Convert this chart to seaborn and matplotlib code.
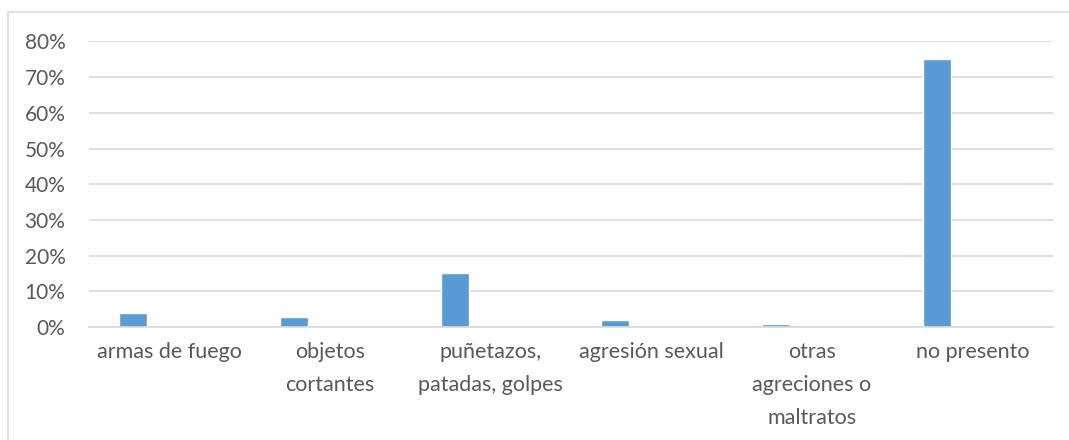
import matplotlib
matplotlib.use("Agg")
import matplotlib.pyplot as plt
import matplotlib.patches as mpatches
import seaborn as sns
import pandas as pd
from matplotlib.ticker import PercentFormatter

categories = ["armas de fuego", "objetos\ncortantes", "puñetazos,\npatadas, golpes",
              "agresión sexual", "otras\nagreciones o\nmaltratos", "no presento"]
values = [0.04, 0.028, 0.15, 0.019, 0.009, 0.752]

df = pd.DataFrame({"cat": categories, "val": values})

sns.set_theme(style="white")
plt.rcParams["font.family"] = ["Lato", "DejaVu Sans"]

text_col = "#595959"
grid_col = "#D9D9D9"

fig = plt.figure(figsize=(10.69, 4.40), dpi=100)
ax = fig.add_axes([0.0833, 0.2568, 0.9017, 0.6489])

sns.barplot(data=df, x="cat", y="val", color="#5B9BD5", width=0.174,
            saturation=1, ax=ax)
# Excel-style offset: bars sit left of the category centre
for p in ax.patches:
    p.set_x(p.get_x() - 0.224)

ax.set_ylim(0, 0.8)
ax.set_xlim(-0.5, len(categories) - 0.5)
ax.set_yticks([i / 10 for i in range(9)])
ax.yaxis.set_major_formatter(PercentFormatter(1.0, decimals=0))
ax.set_axisbelow(True)
ax.grid(axis="y", color=grid_col, linewidth=1.2)
ax.set_xlabel("")
ax.set_ylabel("")

for s in ["top", "right", "left"]:
    ax.spines[s].set_visible(False)
ax.spines["bottom"].set_color(grid_col)
ax.spines["bottom"].set_linewidth(1.2)

ax.tick_params(axis="y", length=0, pad=17, labelsize=15, labelcolor=text_col)
ax.tick_params(axis="x", length=0, pad=11, labelsize=15.5, labelcolor=text_col)
for lbl in ax.get_xticklabels():
    lbl.set_linespacing(1.8)
    lbl.set_verticalalignment("top")

# chart-area border (extends past the right and bottom edges, as in the crop)
fig.patches.append(mpatches.Rectangle((8 / 1069, -0.1), 1.2, 1 - 12 / 440 + 0.1,
                                      transform=fig.transFigure, fill=False,
                                      edgecolor=grid_col, linewidth=1.2))

fig.savefig("out.png", dpi=100)
